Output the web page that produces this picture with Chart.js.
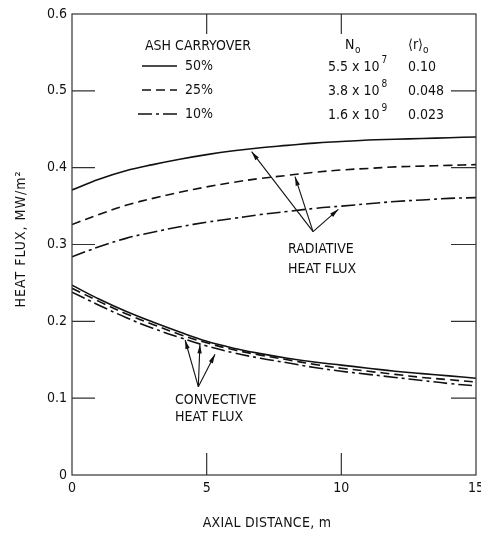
<!DOCTYPE html>
<html><head><meta charset="utf-8">
<script src="https://cdn.jsdelivr.net/npm/chart.js@4/dist/chart.umd.min.js"></script>
<style>html,body{margin:0;padding:0;background:#fff}#wrap{width:481px;height:535px;position:relative}</style>
</head><body><div id="wrap"><canvas id="c"></canvas></div>
<script>
// ---- data ----
const distance = [0,1,2,3,4,5,6,7,8,9,10,11,12,13,14,15];
const radiative50 = [0.371,0.385,0.396,0.404,0.411,0.417,0.422,0.426,0.429,0.432,0.434,0.436,0.437,0.438,0.439,0.440];
const radiative25 = [0.326,0.339,0.351,0.360,0.368,0.375,0.381,0.386,0.390,0.394,0.397,0.399,0.401,0.402,0.403,0.404];
const radiative10 = [0.284,0.297,0.308,0.316,0.323,0.329,0.334,0.339,0.343,0.347,0.350,0.353,0.356,0.358,0.360,0.361];
const convective50 = [0.247,0.229,0.213,0.199,0.186,0.174,0.165,0.158,0.152,0.147,0.143,0.139,0.135,0.132,0.129,0.126];
const convective25 = [0.243,0.226,0.210,0.196,0.183,0.172,0.163,0.156,0.150,0.144,0.139,0.135,0.131,0.127,0.124,0.121];
const convective10 = [0.238,0.221,0.205,0.191,0.179,0.168,0.159,0.152,0.146,0.140,0.135,0.131,0.127,0.123,0.119,0.116];
const xTicks = [0,5,10,15];
const xTickLabels = ['0','5','10','15'];
const yTicks = [0,0.1,0.2,0.3,0.4,0.5,0.6];
const yTickLabels = ['0','0.1','0.2','0.3','0.4','0.5','0.6'];
const seriesLabels = ['50%','25%','10%'];
const n0Mantissa = ['5.5 x 10','3.8 x 10','1.6 x 10'];
const n0Exponent = ['7','8','9'];
const r0Values = ['0.10','0.048','0.023'];

const FONT = '"DejaVu Sans Condensed","Liberation Sans Narrow","DejaVu Sans",sans-serif';
const INK = '#111';
const dashes = [[], [9,5], [14,4,3,4]];

function pts(arr){ return distance.map((x,i)=>({x:x,y:arr[i]})); }
function ds(label, arr, k){
  return {label:label, data:pts(arr), borderColor:INK, borderWidth:1.6, borderDash:dashes[k],
    pointRadius:0, tension:0.4, fill:false};
}

const overlay = {
  id:'overlay',
  afterDraw(chart){
    const ctx = chart.ctx, ca = chart.chartArea, xs = chart.scales.x, ys = chart.scales.y;
    const X = v=>xs.getPixelForValue(v), Y = v=>ys.getPixelForValue(v);
    ctx.save();
    ctx.strokeStyle = '#333'; ctx.lineWidth = 1.2; ctx.setLineDash([]);
    ctx.strokeRect(ca.left, ca.top, ca.right-ca.left, ca.bottom-ca.top);
    // inner ticks
    ctx.beginPath();
    yTicks.forEach(v=>{ if(v>0 && v<0.6){ ctx.moveTo(ca.left, Y(v)); ctx.lineTo(ca.left+23, Y(v));
      ctx.moveTo(ca.right, Y(v)); ctx.lineTo(ca.right-25, Y(v)); }});
    xTicks.forEach(v=>{ if(v>0 && v<15){ ctx.moveTo(X(v), ca.bottom); ctx.lineTo(X(v), ca.bottom-22);
      ctx.moveTo(X(v), ca.top); ctx.lineTo(X(v), ca.top+20); }});
    ctx.stroke();
    // tick labels
    ctx.fillStyle = INK; ctx.font = '14px '+FONT; ctx.textBaseline='middle';
    ctx.textAlign='right';
    yTicks.forEach((v,i)=>ctx.fillText(yTickLabels[i], ca.left-5, Y(v)));
    ctx.textAlign='center';
    xTicks.forEach((v,i)=>ctx.fillText(xTickLabels[i], X(v), ca.bottom+13));
    // axis titles
    ctx.letterSpacing = '0.3px';
    ctx.fillText('AXIAL DISTANCE, m', 267, 523);
    ctx.letterSpacing = '1px';
    ctx.save(); ctx.translate(21, 239); ctx.rotate(-Math.PI/2);
    ctx.fillText('HEAT FLUX, MW/m\u00B2', 0, 0); ctx.restore();
    ctx.letterSpacing = '0px';
    // legend
    ctx.textAlign='left';
    ctx.fillText('ASH CARRYOVER', 145, 46);
    const rowY = [66, 90, 114];
    seriesLabels.forEach((s,i)=>{
      ctx.beginPath(); ctx.setLineDash(dashes[i]); ctx.lineWidth=1.6; ctx.strokeStyle=INK;
      ctx.moveTo(i==2?138:142, rowY[i]); ctx.lineTo(177, rowY[i]); ctx.stroke(); ctx.setLineDash([]);
      ctx.fillText(s, 185, rowY[i]);
    });
    // table
    ctx.fillText('N', 345, 45);
    ctx.font = '10px '+FONT; ctx.fillText('o', 355, 50);
    ctx.font = '14px '+FONT; ctx.fillText('\u27E8r\u27E9', 408, 45);
    const rw = ctx.measureText('\u27E8r\u27E9').width;
    ctx.font = '10px '+FONT; ctx.fillText('o', 408+rw, 50);
    rowY.forEach((y,i)=>{
      ctx.font = '14px '+FONT; ctx.fillText(n0Mantissa[i], 328, y+1);
      const w = ctx.measureText(n0Mantissa[i]).width;
      ctx.font = '10px '+FONT; ctx.fillText(n0Exponent[i], 328+w+2, y-6);
      ctx.font = '14px '+FONT; ctx.fillText(r0Values[i], 408, y+1);
    });
    // arrows
    function arrow(x0,y0,x1,y1){
      const a = Math.atan2(y1-y0, x1-x0), L=9, W=2.2;
      ctx.beginPath(); ctx.moveTo(x0,y0); ctx.lineTo(x1,y1); ctx.lineWidth=1.1; ctx.stroke();
      ctx.beginPath(); ctx.moveTo(x1,y1);
      ctx.lineTo(x1-L*Math.cos(a)+W*Math.sin(a), y1-L*Math.sin(a)-W*Math.cos(a));
      ctx.lineTo(x1-L*Math.cos(a)-W*Math.sin(a), y1-L*Math.sin(a)+W*Math.cos(a));
      ctx.closePath(); ctx.fill();
    }
    const rA = [X(8.95), Y(0.3167)];
    [[6.67,0.4208],[8.28,0.3883],[9.89,0.3458]].forEach(t=>arrow(rA[0],rA[1],X(t[0]),Y(t[1])));
    const cA = [X(4.69), Y(0.1149)];
    [[4.20,0.1757],[4.75,0.1700],[5.31,0.1570]].forEach(t=>arrow(cA[0],cA[1],X(t[0]),Y(t[1])));
    ctx.font = '14px '+FONT; ctx.textAlign='left';
    ctx.fillText('RADIATIVE', 288, 249);
    ctx.fillText('HEAT FLUX', 288, 269);
    ctx.fillText('CONVECTIVE', 175, 400);
    ctx.fillText('HEAT FLUX', 175, 417);
    ctx.restore();
  }
};

new Chart(document.getElementById('c'), {
  type:'line',
  data:{datasets:[
    ds('Radiative 50%', radiative50, 0), ds('Radiative 25%', radiative25, 1), ds('Radiative 10%', radiative10, 2),
    ds('Convective 50%', convective50, 0), ds('Convective 25%', convective25, 1), ds('Convective 10%', convective10, 2)
  ]},
  options:{
    responsive:true, maintainAspectRatio:false, animation:false, devicePixelRatio:1,
    layout:{padding:{left:72, right:5, top:14, bottom:60}},
    plugins:{legend:{display:false}, tooltip:{enabled:false}},
    scales:{
      x:{type:'linear', min:0, max:15, display:false},
      y:{type:'linear', min:0, max:0.6, display:false}
    }
  },
  plugins:[overlay]
});
</script></body></html>
